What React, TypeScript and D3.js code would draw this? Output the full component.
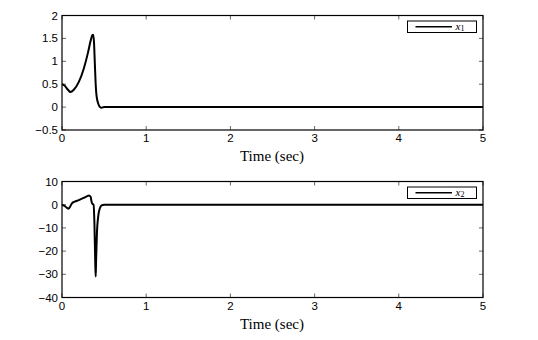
import { useEffect, useRef } from 'react'
import * as d3 from 'd3'

const T1 = [0, 0.03, 0.07, 0.1, 0.14, 0.2, 0.26, 0.31, 0.34, 0.36, 0.37, 0.38, 0.39, 0.4, 0.41, 0.43, 0.45, 0.47, 0.5, 5]
const X1 = [0.5, 0.47, 0.38, 0.33, 0.38, 0.55, 0.85, 1.2, 1.45, 1.57, 1.58, 1.42, 0.95, 0.5, 0.25, 0.08, 0.0, -0.015, 0, 0]

const T2 = [0, 0.03, 0.06, 0.08, 0.1, 0.12, 0.15, 0.2, 0.25, 0.3, 0.32, 0.34, 0.35, 0.36, 0.375, 0.385, 0.395, 0.4, 0.405, 0.415, 0.43, 0.45, 0.47, 0.5, 5]
const X2 = [0, -0.5, -1.4, -1.7, -0.6, 0.7, 1.3, 2, 2.8, 3.7, 4, 3.4, 1.5, 0.4, 0, -8, -25, -31, -24, -12, -5, -1.5, -0.3, 0, 0]

const X_TICKS = [0, 1, 2, 3, 4, 5]
const Y1_TICKS = [-0.5, 0, 0.5, 1, 1.5, 2]
const Y2_TICKS = [-40, -30, -20, -10, 0, 10]

const fmt = (d: number) => String(d).replace('-', '\u2212')

const PANELS = [
  { t: T1, v: X1, ticks: Y1_TICKS, dom: [-0.5, 2], top: 15.5, bottom: 130, label: '1' },
  { t: T2, v: X2, ticks: Y2_TICKS, dom: [-40, 10], top: 181.5, bottom: 297.5, label: '2' },
]

export default function App() {
  const svgRef = useRef<SVGSVGElement>(null)

  useEffect(() => {
    const svg = d3.select(svgRef.current)
    svg.selectAll('*').remove()

    const left = 62, right = 483
    const x = d3.scaleLinear().domain([0, 5]).range([left, right])

    PANELS.forEach(p => {
      const y = d3.scaleLinear().domain(p.dom).range([p.bottom, p.top])
      const g = svg.append('g')

      // inward ticks on all four sides, matlab style
      X_TICKS.forEach(d => {
        g.append('line').attr('x1', x(d)).attr('x2', x(d)).attr('y1', p.bottom).attr('y2', p.bottom - 4)
          .attr('stroke', '#000').attr('stroke-width', 0.6)
        g.append('line').attr('x1', x(d)).attr('x2', x(d)).attr('y1', p.top).attr('y2', p.top + 4)
          .attr('stroke', '#000').attr('stroke-width', 0.6)
        g.append('text').attr('x', x(d)).attr('y', p.bottom + 12)
          .attr('text-anchor', 'middle').attr('font-size', 11.5).attr('font-family', 'Liberation Sans, Arial, sans-serif')
          .text(d)
      })
      p.ticks.forEach(d => {
        g.append('line').attr('x1', left).attr('x2', left + 4).attr('y1', y(d)).attr('y2', y(d))
          .attr('stroke', '#000').attr('stroke-width', 0.6)
        g.append('line').attr('x1', right).attr('x2', right - 4).attr('y1', y(d)).attr('y2', y(d))
          .attr('stroke', '#000').attr('stroke-width', 0.6)
        g.append('text').attr('x', left - 4).attr('y', y(d)).attr('dy', '0.35em')
          .attr('text-anchor', 'end').attr('font-size', 11.5).attr('font-family', 'Liberation Sans, Arial, sans-serif')
          .text(fmt(d))
      })

      const line = d3.line<number>()
        .x((_, i) => x(p.t[i]))
        .y(d => y(d))
        .curve(d3.curveMonotoneX)
      g.append('path').attr('d', line(p.v)).attr('fill', 'none')
        .attr('stroke', '#000').attr('stroke-width', 2).attr('stroke-linejoin', 'round')

      g.append('rect').attr('x', left).attr('y', p.top).attr('width', right - left).attr('height', p.bottom - p.top)
        .attr('fill', 'none').attr('stroke', '#000').attr('stroke-width', 1.2)

      // legend
      const ly = p.top + 5.5
      g.append('rect').attr('x', 407.5).attr('y', ly).attr('width', 69).attr('height', 11.5)
        .attr('fill', '#fff').attr('stroke', '#000').attr('stroke-width', 1)
      g.append('line').attr('x1', 415.5).attr('x2', 452).attr('y1', ly + 5.75).attr('y2', ly + 5.75)
        .attr('stroke', '#000').attr('stroke-width', 1.6)
      const lt = g.append('text').attr('x', 455.5).attr('y', ly + 8.5)
        .attr('font-family', 'Liberation Serif, Times New Roman, serif').attr('font-size', 11)
      lt.append('tspan').attr('font-style', 'italic').text('x')
      lt.append('tspan').attr('font-size', 8).attr('dy', 1.5).text(p.label)

      g.append('text').attr('x', 272).attr('y', p.bottom + 31)
        .attr('text-anchor', 'middle').attr('font-size', 15)
        .attr('font-family', 'Liberation Serif, Times New Roman, serif')
        .text('Time (sec)')
    })
  }, [])

  return (
    <svg ref={svgRef} width={538} height={340}
      style={{ position: 'absolute', left: 0, top: 0, background: '#fff' }} />
  )
}
